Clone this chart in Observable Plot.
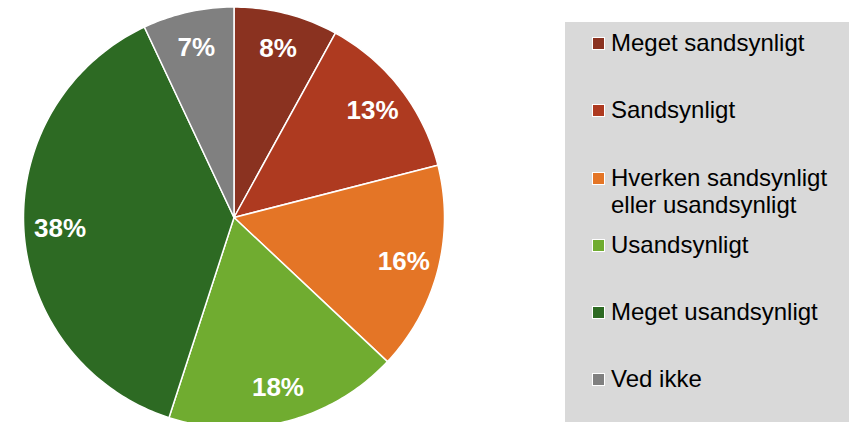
<!DOCTYPE html>
<html><head><meta charset="utf-8">
<script src="https://cdn.jsdelivr.net/npm/d3@7"></script>
<script src="https://cdn.jsdelivr.net/npm/@observablehq/plot@0.6"></script>
<style>
body{margin:0;background:#fff;font-family:"Liberation Sans",Arial,sans-serif;}
#wrap{position:relative;width:849px;height:422px;overflow:hidden;}
#chart{position:absolute;left:0;top:0;}
#legend{position:absolute;left:565px;top:22px;width:284px;height:400px;background:#d9d9d9;}
.item{position:absolute;left:46px;width:230px;font-size:24px;line-height:27px;color:#000;}
.sw{position:absolute;left:-19px;top:8px;width:11px;height:11px;border:1px solid #fff;}
</style></head><body>
<div id="wrap"><div id="chart"></div><div id="legend"></div></div>
<script>
const categories = ["Meget sandsynligt", "Sandsynligt", "Hverken sandsynligt eller usandsynligt", "Usandsynligt", "Meget usandsynligt", "Ved ikke"];
const values = [8, 13, 16, 18, 38, 7];
const colors = ["#8a3220", "#ae3a20", "#e47526", "#70ac30", "#2d6a23", "#808080"];

const total = d3.sum(values);
const wedges = [];
const labels = [];
let acc = 0;
categories.forEach((c, i) => {
  const a0 = acc / total * 2 * Math.PI;
  acc += values[i];
  const a1 = acc / total * 2 * Math.PI;
  const n = Math.max(2, Math.ceil((a1 - a0) / (Math.PI / 180)));
  for (let k = 0; k <= n; k++) {
    const t = a0 + (a1 - a0) * k / n;
    wedges.push({cat: c, x: Math.sin(t), y: Math.cos(t), cx: 0, cy: 0});
  }
  const m = (a0 + a1) / 2;
  labels.push({cat: c, x: 0.83 * Math.sin(m), y: 0.83 * Math.cos(m), text: values[i] + "%"});
});

const chart = Plot.plot({
  width: 565,
  height: 422,
  margin: 0,
  x: {domain: [-1, 1], range: [23.5, 444.5], axis: null},
  y: {domain: [-1, 1], range: [428, 7], axis: null},
  color: {domain: categories, range: colors},
  marks: [
    Plot.area(wedges, {x1: "x", y1: "y", x2: "cx", y2: "cy", z: "cat", fill: "cat", stroke: "white", strokeWidth: 1.5, strokeLinejoin: "round"}),
    Plot.text(labels, {x: "x", y: "y", text: "text", fill: "white", fontSize: 26, fontWeight: "bold", fontFamily: "Liberation Sans, Arial, sans-serif"})
  ]
});
document.getElementById("chart").appendChild(chart);

const legend = document.getElementById("legend");
categories.forEach((c, i) => {
  const item = document.createElement("div");
  item.className = "item";
  item.style.top = (7.2 + i * 67.2) + "px";
  const sw = document.createElement("span");
  sw.className = "sw";
  sw.style.background = colors[i];
  item.appendChild(sw);
  item.appendChild(document.createTextNode(c));
  legend.appendChild(item);
});
</script>
</body></html>
